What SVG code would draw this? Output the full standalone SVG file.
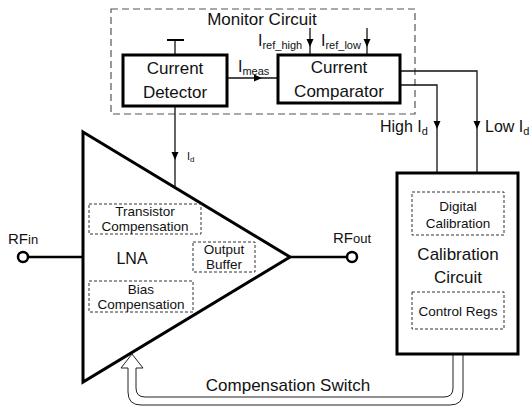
<svg xmlns="http://www.w3.org/2000/svg" width="531" height="407" viewBox="0 0 531 407">
<style>
text{font-family:"Liberation Sans",Arial,sans-serif;fill:#111}
.big{font-size:17px}
.med{font-size:16px}
.sm{font-size:13.5px}
.sub{font-size:11px}
.thick{fill:#fff;stroke:#000;stroke-width:3}
.dash{fill:none;stroke:#555;stroke-width:1.2;stroke-dasharray:7 4}
.sdash{fill:none;stroke:#333;stroke-width:1;stroke-dasharray:3 2}
.ln{fill:none;stroke:#111;stroke-width:1.3}
.rf{fill:none;stroke:#000;stroke-width:2.5}
.port{fill:#fff;stroke:#000;stroke-width:2.5}
</style>
<defs>
<path id="ah" d="M-3.5,-8 L3.5,-8 L0,0 Z" fill="#000"/>
</defs>

<g id="monitor">
<rect class="dash" x="111" y="9" width="304" height="105"/>
<text class="big" x="262" y="25" text-anchor="middle">Monitor Circuit</text>
</g>

<g id="lna">
<polygon class="thick" points="83,132 290,257 83,382"/>
<text class="med" x="132" y="264" text-anchor="middle">LNA</text>
<rect class="sdash" x="89" y="204" width="112" height="30"/>
<text class="sm" x="145" y="216" text-anchor="middle">Transistor</text>
<text class="sm" x="145" y="231" text-anchor="middle">Compensation</text>
<rect class="sdash" x="193" y="242" width="62" height="30"/>
<text class="sm" x="224" y="254" text-anchor="middle">Output</text>
<text class="sm" x="224" y="269" text-anchor="middle">Buffer</text>
<rect class="sdash" x="89" y="281" width="104" height="31"/>
<text class="sm" x="141" y="294" text-anchor="middle">Bias</text>
<text class="sm" x="141" y="309" text-anchor="middle">Compensation</text>
</g>

<g id="connectors">
<line x1="175" y1="40" x2="175" y2="55" class="ln"/>
<line x1="167" y1="40" x2="184" y2="40" stroke="#000" stroke-width="2"/>
<line x1="310" y1="28" x2="310" y2="55" class="ln"/>
<use href="#ah" transform="translate(310,47)"/>
<line x1="367" y1="28" x2="367" y2="55" class="ln"/>
<use href="#ah" transform="translate(367,47)"/>
<line x1="227" y1="78" x2="278" y2="78" class="ln"/>
<use href="#ah" transform="translate(262,78) rotate(-90)"/>
<line x1="175" y1="106" x2="175" y2="188" class="ln"/>
<use href="#ah" transform="translate(175,160)"/>
<polyline points="400,71 477,71 477,173" class="ln"/>
<use href="#ah" transform="translate(477,129)"/>
<polyline points="400,85 437,85 437,173" class="ln"/>
<use href="#ah" transform="translate(437,129)"/>
<line x1="28" y1="257" x2="83" y2="257" class="rf"/>
<circle cx="23" cy="257" r="5" class="port"/>
<line x1="290" y1="257" x2="347" y2="257" class="rf"/>
<circle cx="352" cy="257" r="5" class="port"/>
<path d="M453,355 V388 Q453,397 444,397 H145 Q136,397 136,388 V368 H143 L132,354 L121,368 H128 V392 Q128,405 141,405 H450 Q463,405 463,392 V355" fill="#fff" stroke="#222" stroke-width="1"/>
</g>

<g id="labels">
<text class="med" x="258" y="46">I<tspan class="sub" dy="3">ref_high</tspan></text>
<text class="med" x="321" y="46">I<tspan class="sub" dy="3">ref_low</tspan></text>
<text class="med" x="238" y="72">I<tspan class="sub" dy="3">meas</tspan></text>
<text x="187" y="160" font-size="11">I<tspan font-size="8" dy="2">d</tspan></text>
<text class="med" x="380" y="132">High I<tspan class="sub" dy="3">d</tspan></text>
<text class="med" x="485" y="132">Low I<tspan class="sub" dy="3">d</tspan></text>
<text x="8" y="244" font-size="15">RF<tspan font-size="13">in</tspan></text>
<text x="333" y="243" font-size="15">RF<tspan font-size="13">out</tspan></text>
<text class="big" x="288" y="391" text-anchor="middle">Compensation Switch</text>
</g>

<g id="detector">
<rect class="thick" x="123" y="55" width="104" height="51"/>
<text class="big" x="175" y="74" text-anchor="middle">Current</text>
<text class="big" x="175" y="98" text-anchor="middle">Detector</text>
</g>

<g id="comparator">
<rect class="thick" x="278" y="55" width="122" height="48"/>
<text class="big" x="339" y="73" text-anchor="middle">Current</text>
<text class="big" x="339" y="97" text-anchor="middle">Comparator</text>
</g>

<g id="calibration">
<rect class="thick" x="397" y="173" width="121" height="181"/>
<rect class="sdash" x="412" y="192" width="92" height="43"/>
<text class="sm" x="458" y="211" text-anchor="middle">Digital</text>
<text class="sm" x="458" y="228" text-anchor="middle">Calibration</text>
<text class="big" x="458" y="260" text-anchor="middle">Calibration</text>
<text class="big" x="458" y="283" text-anchor="middle">Circuit</text>
<rect class="sdash" x="412" y="292" width="92" height="37"/>
<text class="sm" x="458" y="316" text-anchor="middle">Control Regs</text>
</g>
</svg>
